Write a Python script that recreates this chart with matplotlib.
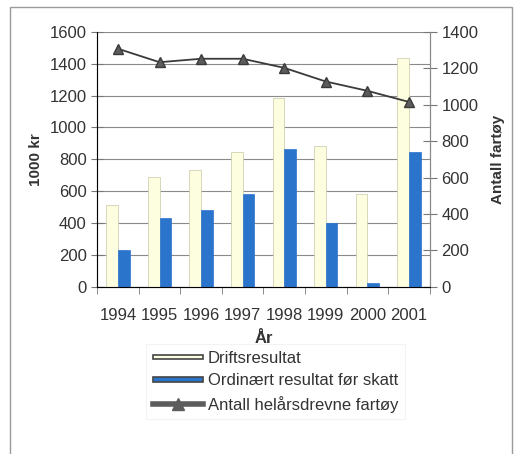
import matplotlib
matplotlib.use('Agg')
import matplotlib.pyplot as plt
from matplotlib.patches import Rectangle
from matplotlib.lines import Line2D
from matplotlib.legend_handler import HandlerPatch
import numpy as np

years = ['1994', '1995', '1996', '1997', '1998', '1999', '2000', '2001']
drift = [513, 689, 731, 844, 1185, 886, 582, 1437]
ordinaert = [230, 433, 480, 582, 867, 398, 25, 844]
fartoy = [1307, 1233, 1252, 1252, 1202, 1127, 1076, 1015]

plt.rcParams['font.family'] = ['Liberation Sans', 'DejaVu Sans']

fig = plt.figure(figsize=(5.28, 4.54), dpi=100)
ax = fig.add_axes([0.184, 0.368, 0.63, 0.562])

# outer frame
fig.patches.append(Rectangle((10/528, -0.05), 502/528, 1.05 - 7/454, transform=fig.transFigure,
                             fill=False, edgecolor='#9a9a9a', linewidth=1.0))

x = np.arange(len(years))
w = 0.28
ax.bar(x - w/2, drift, w, color='#fdfde0', edgecolor='#c8c8a8', linewidth=0.5, zorder=3)
ax.bar(x + w/2, ordinaert, w, color='#2a74cc', edgecolor='#2a74cc', linewidth=0.5, zorder=3)

ax.set_ylim(0, 1600)
ax.set_xlim(-0.5, len(years) - 0.5)
ax.set_yticks(range(0, 1601, 200))
ax.yaxis.grid(True, color='#8a8a8a', linewidth=0.8, zorder=0)
ax.set_xticks(x)
ax.set_xticklabels(years, fontsize=12, color='#333333')
ax.set_xticks(np.arange(-0.5, len(years)), minor=True)
ax.tick_params(axis='x', which='major', length=0, pad=15)
ax.tick_params(axis='x', which='minor', length=5, color='#777777')
ax.tick_params(axis='y', labelsize=12, labelcolor='#333333', color='#777777', direction='inout', length=8)
for s in ['top']:
    ax.spines[s].set_visible(False)
for s in ['left', 'bottom', 'right']:
    ax.spines[s].set_color('#8a8a8a')
ax.set_ylabel('1000 kr', fontsize=11, fontweight='bold', color='#333333', labelpad=5)
ax.set_xlabel('År', fontsize=12, fontweight='bold', color='#333333', labelpad=6)

ax2 = ax.twinx()
ax2.plot(x, fartoy, color='#3a3a3a', linewidth=1.3, marker='^', markersize=7,
         markerfacecolor='#5c5c5c', markeredgecolor='#3a3a3a', zorder=5)
ax2.set_ylim(0, 1400)
ax2.set_yticks(range(0, 1401, 200))
ax2.tick_params(axis='y', labelsize=12, labelcolor='#333333', color='#777777', direction='inout', length=10)
ax2.spines['top'].set_visible(False)
ax2.spines['right'].set_color('#8a8a8a')
ax2.set_ylabel('Antall fartøy', fontsize=11, fontweight='bold', color='#333333', labelpad=9)


def thin_rect(legend, orig_handle, xdescent, ydescent, width, height, fontsize):
    return Rectangle((-xdescent, -ydescent + height * 0.3), width, height * 0.4)


h1 = Rectangle((0, 0), 1, 1, facecolor='#fdfde0', edgecolor='#444444', linewidth=1.2)
h2 = Rectangle((0, 0), 1, 1, facecolor='#2a74cc', edgecolor='#444444', linewidth=1.2)
h3 = Line2D([], [], color='#5c5c5c', linewidth=4, marker='^', markersize=8,
            markerfacecolor='#5c5c5c', markeredgecolor='#5c5c5c')
leg = fig.legend([h1, h2, h3], ['Driftsresultat', 'Ordinært resultat før skatt', 'Antall helårsdrevne fartøy'],
                 loc='upper left', bbox_to_anchor=(146/528, 1 - 344/454),
                 fontsize=12, handlelength=3.0, handletextpad=0.3, labelspacing=0.45,
                 borderpad=0.4, borderaxespad=0, fancybox=False,
                 handler_map={Rectangle: HandlerPatch(patch_func=thin_rect)})
leg.get_frame().set_edgecolor('#f0f0f0')
leg.get_frame().set_linewidth(0.8)
for t in leg.get_texts():
    t.set_color('#333333')

plt.savefig('out.png', dpi=100)
